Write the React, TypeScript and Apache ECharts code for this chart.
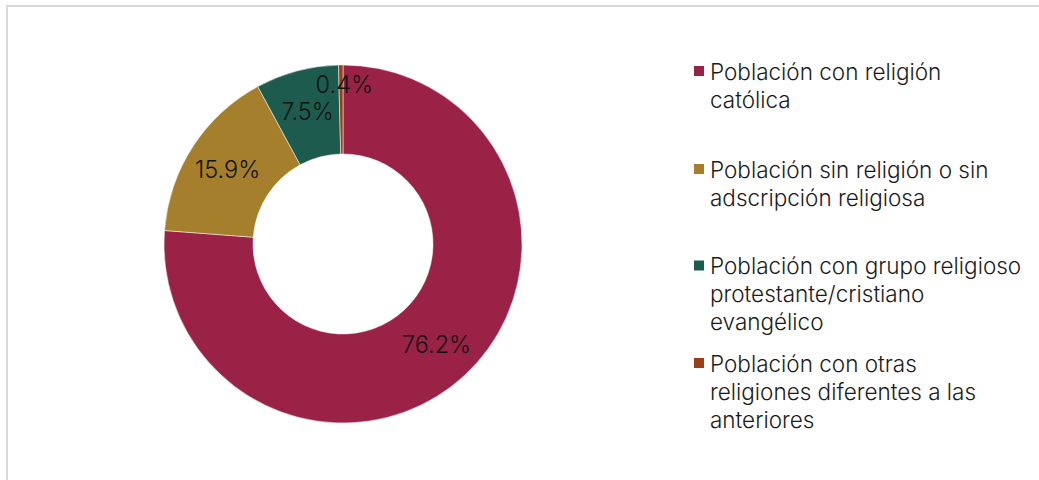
import React, { useEffect, useRef } from "react";
import * as echarts from "echarts";

const categories = [
  "Población con religión católica",
  "Población sin religión o sin adscripción religiosa",
  "Población con grupo religioso protestante/cristiano evangélico",
  "Población con otras religiones diferentes a las anteriores",
];
const legendLines = [
  "Población con religión\ncatólica",
  "Población sin religión o sin\nadscripción religiosa",
  "Población con grupo religioso\nprotestante/cristiano\nevangélico",
  "Población con otras\nreligiones diferentes a las\nanteriores",
];
const values = [76.2, 15.9, 7.5, 0.4];
const colors = ["#9B2247", "#A57F2C", "#1E5B4F", "#9A3F1A"];

const FONT = "Inter, 'Noto Sans', sans-serif";
const LINE_H = 28;
const legendCenters = [71, 169, 265.5, 363];

export default function App() {
  const ref = useRef<HTMLDivElement>(null);
  useEffect(() => {
    document.body.style.margin = "0";
    const chart = echarts.init(ref.current!, null, { renderer: "svg" });
    const legends = categories.map((name, i) => {
      const n = legendLines[i].split("\n").length;
      return {
        data: [name],
        orient: "vertical",
        left: 692,
        top: legendCenters[i] - (2 * n - 1) * (LINE_H / 2),
        padding: 0,
        itemWidth: 12,
        itemHeight: 12,
        icon: "rect",
        selectedMode: false,
        formatter: () => "\n".repeat(n - 1) + legendLines[i],
        textStyle: {
          fontFamily: FONT,
          fontSize: 22.5,
          fontWeight: 300,
          color: "#1a1a1a",
          lineHeight: LINE_H,
        },
      };
    });
    chart.setOption({
      animation: false,
      color: colors,
      graphic: [
        {
          type: "rect",
          shape: { x: 7, y: 6, width: 1040, height: 490 },
          style: { fill: "none", stroke: "#d9d9d9", lineWidth: 2 },
          silent: true,
        },
      ],
      legend: legends,
      series: [
        {
          type: "pie",
          center: [343, 244],
          radius: [90, 179],
          startAngle: 90,
          clockwise: true,
          avoidLabelOverlap: false,
          itemStyle: { borderColor: "#ffffff", borderWidth: 0.5 },
          label: {
            show: true,
            position: "inside",
            formatter: (p: any) => p.value.toFixed(1) + "%",
            fontFamily: FONT,
            fontSize: 23.5,
            fontWeight: 300,
            color: "#111111",
          },
          labelLayout: (p: any) => (p.dataIndex === 3 ? { dx: 3, dy: -22 } : {}),
          labelLine: { show: false },
          emphasis: { disabled: true },
          data: categories.map((name, i) => ({ name, value: values[i] })),
        },
      ],
    });
    return () => chart.dispose();
  }, []);
  return <div ref={ref} style={{ width: 1039, height: 480 }} />;
}
